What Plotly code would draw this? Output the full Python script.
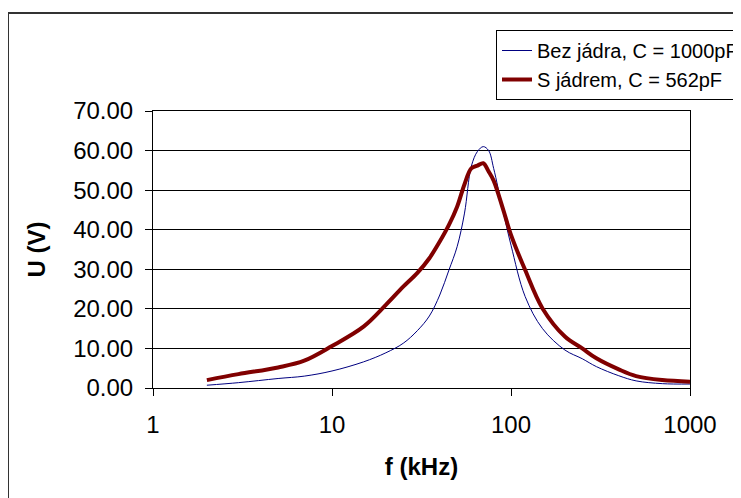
import plotly.graph_objects as go

# Frequencies (kHz)
freq = [2, 3, 5, 7, 10, 15, 20, 25, 30, 35, 40, 45, 50, 55, 60, 65, 70, 75, 80,
        90, 100, 120, 150, 200, 250, 300, 400, 500, 700, 1000]
# Bez jádra, C = 1000pF
u_bez = [0.7, 1.35, 2.4, 3.0, 4.3, 6.6, 8.9, 11.3, 14.5, 18.2, 23.5, 29.8, 35.7, 44.2,
         56.0, 59.8, 61.0, 60.0, 55.5, 45.0, 36.1, 23.1, 15.0, 9.6, 7.4, 5.4, 3.1, 1.8,
         1.1, 1.0]
# S jádrem, C = 562pF
u_s = [2.0, 3.5, 5.2, 6.9, 10.6, 15.5, 21.0, 25.6, 29.1, 32.8, 37.0, 41.2, 45.8, 51.5,
       55.5, 56.2, 56.8, 54.7, 52.4, 45.4, 38.7, 29.8, 20.1, 13.0, 10.0, 7.5, 4.7, 3.0,
       2.0, 1.6]

series_names = ["Bez jádra, C = 1000pF", "S jádrem, C = 562pF"]
x_ticks = [1, 10, 100, 1000]
x_tick_labels = ["1", "10", "100", "1000"]
y_ticks = [0, 10, 20, 30, 40, 50, 60, 70]

FONT = "Liberation Sans, Arial, sans-serif"

fig = go.Figure()
fig.add_trace(go.Scatter(x=freq, y=u_bez, mode="lines", name=series_names[0],
                         line=dict(color="#000080", width=1, shape="spline", smoothing=1.0)))
fig.add_trace(go.Scatter(x=freq, y=u_s, mode="lines", name=series_names[1],
                         line=dict(color="#800000", width=4, shape="spline", smoothing=1.0)))

# page body adds an 8px offset, so all pixel positions are shifted by -8
OFF = 8
W, H = 741 - OFF, 498 - OFF
L, R, T, B = 153 - OFF, 690 - OFF, 111 - OFF, 388 - OFF
pw, ph = R - L, B - T

def px(xp):
    return (xp - OFF - L) / pw

def py(yp):
    return (B - (yp - OFF)) / ph

fig.update_layout(
    width=W, height=H,
    margin=dict(l=L, r=W - R, t=T, b=H - B, autoexpand=False),
    paper_bgcolor="white", plot_bgcolor="white",
    font=dict(family=FONT, size=24, color="black"),
    showlegend=True,
    legend=dict(x=px(496), y=py(30), xanchor="left", yanchor="top",
                bgcolor="white", bordercolor="black", borderwidth=1,
                font=dict(size=20, family=FONT), tracegroupgap=0,
                itemwidth=30),
    xaxis=dict(type="log", range=[0, 3], tickvals=x_ticks, ticktext=x_tick_labels,
               showgrid=False, showline=True, linecolor="black", linewidth=1,
               ticks="outside", ticklen=7, tickcolor="black", mirror=True,
               ticklabelstandoff=8, zeroline=False,
               title=dict(text="<b>f (kHz)</b>", font=dict(size=24), standoff=21)),
    yaxis=dict(range=[0, 70], tickvals=y_ticks, tickformat=".2f",
               showgrid=True, gridcolor="black", gridwidth=1,
               showline=True, linecolor="black", linewidth=1, mirror=True,
               ticks="outside", ticklen=7, tickcolor="black",
               ticklabelstandoff=7, zeroline=False,
               title=dict(text="<b>U (V)</b>", font=dict(size=24), standoff=20)),
    shapes=[dict(type="rect", xref="paper", yref="paper",
                 x0=px(8), x1=px(780), y0=py(540), y1=py(13),
                 line=dict(color="#333333", width=2), layer="below")],
)

fig.write_html("out.html")
